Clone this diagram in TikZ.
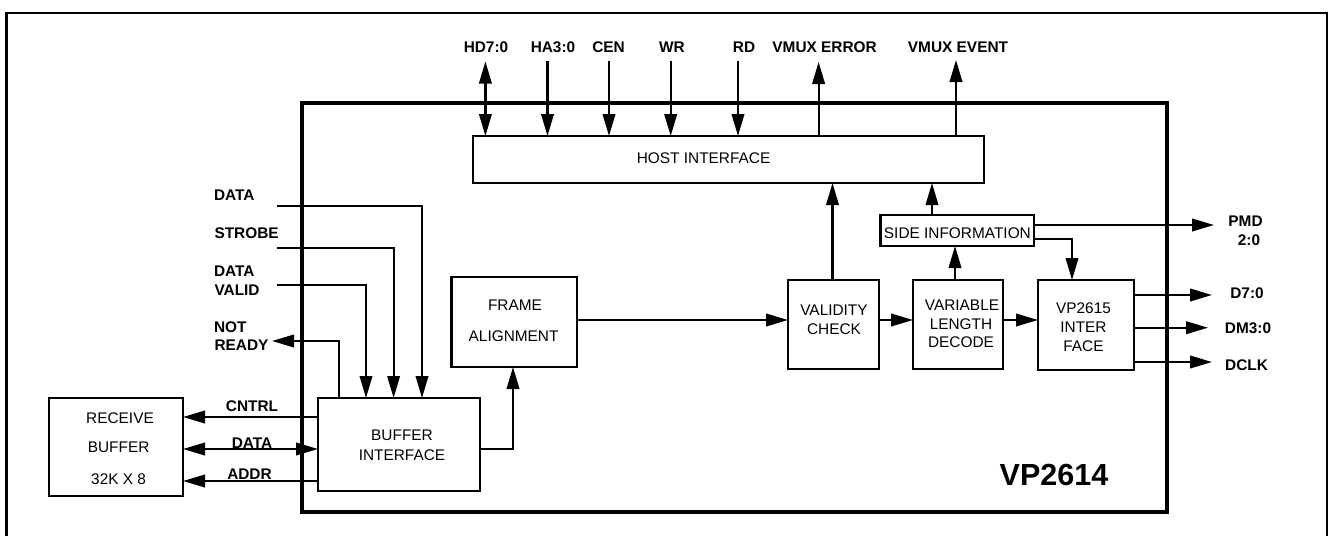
\documentclass[tikz,border=0pt]{standalone}
\usepackage{fontspec}
\setmainfont{Liberation Sans}
\usetikzlibrary{arrows.meta}
\tikzset{
  boxst/.style={draw=black,line width=2.2pt,fill=white,inner sep=0pt,outer sep=0pt},
  chipst/.style={draw=black,line width=3.6pt,inner sep=0pt,outer sep=0pt},
  lbl/.style={inner sep=0pt,outer sep=0pt,font=\fontsize{15.4}{17}\selectfont},
  blbl/.style={inner sep=0pt,outer sep=0pt,font=\fontsize{15.4}{17}\selectfont\bfseries},
  sig/.style={line width=2.2pt,draw=black,-{Triangle[length=22pt,width=12.5pt]}},
  bidir/.style={line width=2.2pt,draw=black,{Triangle[length=22pt,width=12.5pt]}-{Triangle[length=22pt,width=12.5pt]}}
}
\newcommand{\bx}[6][boxst]{\node[#1,minimum width={(#5-#3)*1pt},minimum height={(#6-#4)*1pt}] (#2) at ({(#3+#5)/2},{(#4+#6)/2}) {};}
\begin{document}
\begin{tikzpicture}[x=1pt,y=-1pt]
\useasboundingbox (0,0) rectangle (1331,536);
% outer frame, open at the bottom
\coordinate (fa) at (6.5,536);
\coordinate (fb) at (6.5,13);
\coordinate (fc) at (1327,13);
\coordinate (fd) at (1327,536);
\draw[line width=2.8pt,draw=black,line join=miter] (fa) -- (fb) -- (fc) -- (fd);
% chip
\bx[chipst]{chip}{302}{103}{1167}{512}
% blocks
\bx{host}{473}{136}{984}{183}
\bx{side}{880.5}{215}{1034}{246}
\bx{valid}{788}{280}{878.6}{369}
\bx{vld}{913}{280}{1003}{369}
\bx{vpif}{1038}{280}{1133.6}{370}
\bx{frame}{451.4}{277}{577}{367}
\bx{buf}{318}{398}{480}{491}
\bx{recv}{49}{398}{183}{496}
% block texts
\node[lbl] (tHost) at (703.6,157.7) {HOST INTERFACE};
\node[lbl] (tSide) at (957.4,232.7) {SIDE INFORMATION};
\node[lbl] (tVal1) at (834,309.7) {VALIDITY};
\node[lbl] (tVal2) at (834,328.7) {CHECK};
\node[lbl] (tVld1) at (962,305) {VARIABLE};
\node[lbl] (tVld2) at (961,323.7) {LENGTH};
\node[lbl] (tVld3) at (961,341.7) {DECODE};
\node[lbl] (tVp1) at (1083.5,307.7) {VP2615};
\node[lbl] (tVp2) at (1083.5,326.7) {INTER};
\node[lbl] (tVp3) at (1083.5,345.7) {FACE};
\node[lbl] (tFr1) at (515,304.7) {FRAME};
\node[lbl] (tFr2) at (513.6,335.7) {ALIGNMENT};
\node[lbl] (tBuf1) at (402,435.7) {BUFFER};
\node[lbl] (tBuf2) at (402,454.7) {INTERFACE};
\node[lbl] (tRc1) at (120,417.7) {RECEIVE};
\node[lbl] (tRc2) at (118.6,447.7) {BUFFER};
\node[lbl] (tRc3) at (118.6,478.7) {32K X 8};
\node[inner sep=0pt,outer sep=0pt,font=\fontsize{30.5}{32}\selectfont\bfseries] (tChip) at (1054,475) {VP2614};
% pin labels
\node[blbl] (lHD) at (486,47) {HD7:0};
\node[blbl] (lHA) at (553,47) {HA3:0};
\node[blbl] (lCEN) at (608.6,47) {CEN};
\node[blbl] (lWR) at (672,47) {WR};
\node[blbl] (lRD) at (744,47) {RD};
\node[blbl] (lVE) at (824.6,47) {VMUX ERROR};
\node[blbl] (lVV) at (958,47) {VMUX EVENT};
\node[blbl,anchor=west] (lData) at (214,195) {DATA};
\node[blbl,anchor=west] (lStb) at (214.5,232.7) {STROBE};
\node[blbl,anchor=west] (lDV1) at (214,271) {DATA};
\node[blbl,anchor=west] (lDV2) at (214.5,290) {VALID};
\node[blbl,anchor=west] (lNR1) at (214,327) {NOT};
\node[blbl,anchor=west] (lNR2) at (214.5,345) {READY};
\node[blbl] (lCn) at (252,406) {CNTRL};
\node[blbl] (lDa) at (252,443) {DATA};
\node[blbl] (lAd) at (249.5,473.7) {ADDR};
\node[blbl] (lPM1) at (1245.5,220.7) {PMD};
\node[blbl] (lPM2) at (1249,240) {2:0};
\node[blbl] (lD7) at (1247,293) {D7:0};
\node[blbl] (lDM) at (1248,328.7) {DM3:0};
\node[blbl] (lCK) at (1246.6,365) {DCLK};
% free ends
\coordinate (eHD) at (485.4,61.5);
\coordinate (eHA) at (547.5,61);
\coordinate (eCE) at (609,61);
\coordinate (eWR) at (670.7,61);
\coordinate (eRD) at (738,61);
\coordinate (eVE) at (818.6,62);
\coordinate (eVV) at (956,60);
\coordinate (eDa) at (277,206);
\coordinate (eSt) at (277,248);
\coordinate (eDV) at (277,285);
\coordinate (eNR) at (272,341);
\coordinate (ePM) at (1214,225);
\coordinate (eD7) at (1212,295);
\coordinate (eDM) at (1208,327.7);
\coordinate (eCK) at (1212,362);
% host bus
\draw[bidir] (eHD) -- (host.north -| eHD);
\draw[sig] (eHA) -- (host.north -| eHA);
\draw[sig] (eCE) -- (host.north -| eCE);
\draw[sig] (eWR) -- (host.north -| eWR);
\draw[sig] (eRD) -- (host.north -| eRD);
\draw[sig] (host.north -| eVE) -- (eVE);
\draw[sig] (host.north -| eVV) -- (eVV);
% inputs to buffer interface
\draw[sig] (eDa) -| (buf.north -| 422,0);
\draw[sig] (eSt) -| (buf.north -| 393.6,0);
\draw[sig] (eDV) -| (buf.north -| 366,0);
\draw[sig] (buf.north -| 338.6,0) |- (eNR);
% buffer bus
\draw[sig] (buf.west |- 0,417) -- (recv.east |- 0,417);
\draw[bidir] (recv.east |- 0,449) -- (buf.west |- 0,449);
\draw[sig] (buf.west |- 0,481) -- (recv.east |- 0,481);
% data path
\draw[sig] (buf.east |- 0,449) -| (frame.south -| 513,0);
\draw[sig] (frame.east |- 0,320) -- (valid.west |- 0,320);
\draw[sig] (valid.east |- 0,320) -- (vld.west |- 0,320);
\draw[sig] (vld.east |- 0,320) -- (vpif.west |- 0,320);
\draw[sig] (valid.north -| 832.5,0) -- (host.south -| 832.5,0);
\draw[sig] (side.north -| 932,0) -- (host.south -| 932,0);
\draw[sig] (vld.north -| 955,0) -- (side.south -| 955,0);
\draw[sig] (side.east |- 0,225) -- (ePM);
\draw[sig] (side.east |- 0,239) -| (vpif.north -| 1072,0);
\draw[sig] (vpif.east |- eD7) -- (eD7);
\draw[sig] (vpif.east |- eDM) -- (eDM);
\draw[sig] (vpif.east |- eCK) -- (eCK);
\end{tikzpicture}
\end{document}
